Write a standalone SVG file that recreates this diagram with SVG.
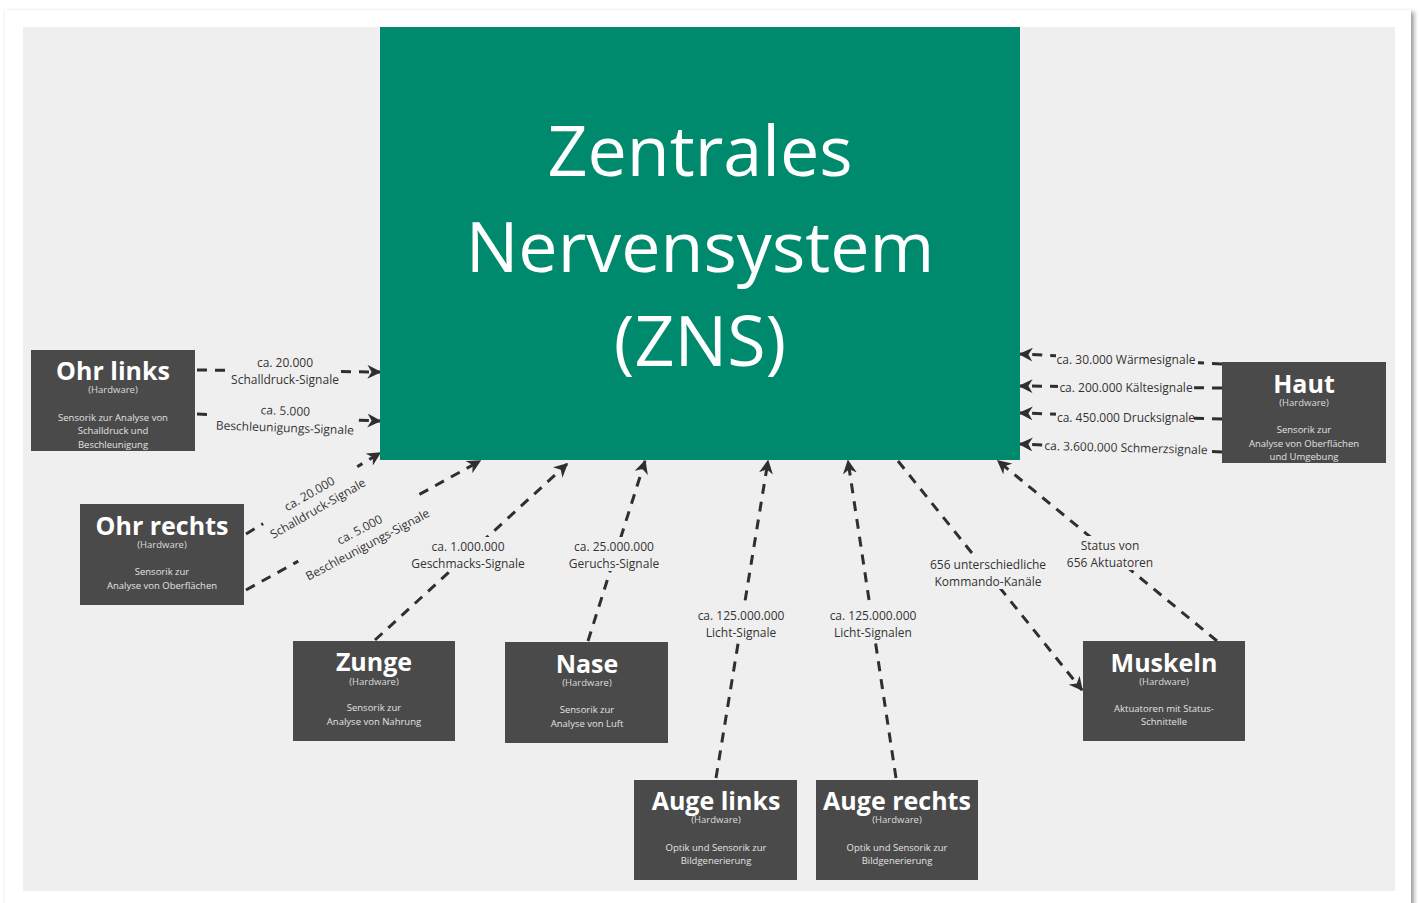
<svg xmlns="http://www.w3.org/2000/svg" width="1419" height="903" viewBox="0 0 1419 903">
<defs>
<marker id="arr" viewBox="0 0 10 10" refX="9" refY="5" markerWidth="14" markerHeight="14" markerUnits="userSpaceOnUse" orient="auto">
<path d="M0,0 L10,5 L0,10 L3,5 z" fill="#2f2f2f"/>
</marker>
<filter id="sh" x="-2%" y="-2%" width="104%" height="104%">
<feGaussianBlur stdDeviation="2"/>
</filter>
</defs>
<style>
.bg{fill:#f0efef}
.node{fill:#4a4a4a}
.t{font-family:"Open Sans","Liberation Sans",sans-serif;font-weight:700;font-size:25px;fill:#fff;text-anchor:middle}
.hw{font-family:"Open Sans","Liberation Sans",sans-serif;font-size:9.5px;fill:#dcdcdc;text-anchor:middle}
.d{font-family:"Open Sans","Liberation Sans",sans-serif;font-size:9.5px;fill:#e2e2e2;text-anchor:middle}
.ca{fill:none;stroke:#2f2f2f;stroke-width:3;stroke-dasharray:10 8;marker-end:url(#arr)}
.l{font-family:"Open Sans","Liberation Sans",sans-serif;font-size:12px;fill:#333;text-anchor:middle}
.zt{font-family:"Open Sans","Liberation Sans",sans-serif;font-size:70px;fill:#fff;text-anchor:middle}
</style>
<rect x="0" y="0" width="1419" height="903" fill="#ffffff"/>
<rect x="7" y="12" width="1407" height="900" fill="#9a9a9a" filter="url(#sh)"/>
<rect x="5" y="10" width="1406" height="900" fill="#ffffff"/>
<rect x="23" y="27" width="1372" height="864" class="bg"/>

<g id="connectors">
<path class="ca" d="M197,370 L380,372"/>
<path class="ca" d="M197,414 L380,421"/>
<path class="ca" d="M246,534 L380,453"/>
<path class="ca" d="M246,590 L480,461"/>
<path class="ca" d="M375,640 L567,464"/>
<path class="ca" d="M588,641 L645,461"/>
<path class="ca" d="M716,778 L768,461"/>
<path class="ca" d="M896,778 L848,461"/>
<path class="ca" d="M898,461 L1082,690"/>
<path class="ca" d="M1217,641 L998,461"/>
<path class="ca" d="M1222,364 L1020,354"/>
<path class="ca" d="M1222,388 L1020,386"/>
<path class="ca" d="M1222,419 L1020,413"/>
<path class="ca" d="M1222,452 L1020,444"/>

<g>
<rect class="bg" x="228" y="352" width="112" height="34"/>
<text class="l" x="285" y="367">ca. 20.000</text>
<text class="l" x="285" y="384">Schalldruck-Signale</text>
</g>
<g transform="rotate(2 285 422)">
<rect class="bg" x="214" y="401" width="142" height="34"/>
<text class="l" x="285" y="415">ca. 5.000</text>
<text class="l" x="285" y="432">Beschleunigungs-Signale</text>
</g>
<g transform="rotate(-30 313 500)">
<rect class="bg" x="258" y="482" width="110" height="34"/>
<text class="l" x="313" y="497">ca. 20.000</text>
<text class="l" x="313" y="514">Schalldruck-Signale</text>
</g>
<g transform="rotate(-28 363 536)">
<rect class="bg" x="294" y="518" width="138" height="34"/>
<text class="l" x="363" y="533">ca. 5.000</text>
<text class="l" x="363" y="550">Beschleunigungs-Signale</text>
</g>
<g>
<rect class="bg" x="410" y="537" width="116" height="34"/>
<text class="l" x="468" y="551">ca. 1.000.000</text>
<text class="l" x="468" y="568">Geschmacks-Signale</text>
</g>
<g>
<rect class="bg" x="566" y="537" width="96" height="34"/>
<text class="l" x="614" y="551">ca. 25.000.000</text>
<text class="l" x="614" y="568">Geruchs-Signale</text>
</g>
<g>
<rect class="bg" x="694" y="606" width="94" height="34"/>
<text class="l" x="741" y="620">ca. 125.000.000</text>
<text class="l" x="741" y="637">Licht-Signale</text>
</g>
<g>
<rect class="bg" x="826" y="606" width="94" height="34"/>
<text class="l" x="873" y="620">ca. 125.000.000</text>
<text class="l" x="873" y="637">Licht-Signalen</text>
</g>
<g>
<rect class="bg" x="928" y="555" width="120" height="34"/>
<text class="l" x="988" y="569">656 unterschiedliche</text>
<text class="l" x="988" y="586">Kommando-Kanäle</text>
</g>
<g>
<rect class="bg" x="1064" y="536" width="92" height="34"/>
<text class="l" x="1110" y="550">Status von</text>
<text class="l" x="1110" y="567">656 Aktuatoren</text>
</g>
<rect class="bg" x="1056" y="350" width="142" height="16"/>
<text class="l" x="1126" y="364">ca. 30.000 Wärmesignale</text>
<rect class="bg" x="1058" y="379" width="136" height="16"/>
<text class="l" x="1126" y="392">ca. 200.000 Kältesignale</text>
<rect class="bg" x="1056" y="409" width="138" height="16"/>
<text class="l" x="1126" y="422">ca. 450.000 Drucksignale</text>
<g transform="rotate(1.5 1126 448)">
<rect class="bg" x="1043" y="439" width="166" height="16"/>
<text class="l" x="1126" y="452">ca. 3.600.000 Schmerzsignale</text>
</g>
</g>

<g id="zns">
<rect x="380" y="27" width="640" height="433" fill="#008a6d"/>
<text class="zt" x="700" y="176">Zentrales</text>
<text class="zt" x="700" y="272">Nervensystem</text>
<text class="zt" x="700" y="366">(ZNS)</text>
</g>

<g id="ohr-links">
<rect class="node" x="31" y="350" width="164" height="101"/>
<text class="t" x="113" y="380">Ohr links</text>
<text class="hw" x="113" y="393">(Hardware)</text>
<text class="d" x="113" y="421">Sensorik zur Analyse von</text>
<text class="d" x="113" y="434">Schalldruck und</text>
<text class="d" x="113" y="448">Beschleunigung</text>
</g>
<g id="ohr-rechts">
<rect class="node" x="80" y="504" width="164" height="101"/>
<text class="t" x="162" y="535">Ohr rechts</text>
<text class="hw" x="162" y="548">(Hardware)</text>
<text class="d" x="162" y="575">Sensorik zur</text>
<text class="d" x="162" y="589">Analyse von Oberflächen</text>
</g>
<g id="haut">
<rect class="node" x="1222" y="362" width="164" height="101"/>
<text class="t" x="1304" y="393">Haut</text>
<text class="hw" x="1304" y="406">(Hardware)</text>
<text class="d" x="1304" y="433">Sensorik zur</text>
<text class="d" x="1304" y="447">Analyse von Oberflächen</text>
<text class="d" x="1304" y="460">und Umgebung</text>
</g>
<g id="zunge">
<rect class="node" x="293" y="641" width="162" height="100"/>
<text class="t" x="374" y="671">Zunge</text>
<text class="hw" x="374" y="685">(Hardware)</text>
<text class="d" x="374" y="711">Sensorik zur</text>
<text class="d" x="374" y="725">Analyse von Nahrung</text>
</g>
<g id="nase">
<rect class="node" x="505" y="642" width="163" height="101"/>
<text class="t" x="587" y="673">Nase</text>
<text class="hw" x="587" y="686">(Hardware)</text>
<text class="d" x="587" y="713">Sensorik zur</text>
<text class="d" x="587" y="727">Analyse von Luft</text>
</g>
<g id="muskeln">
<rect class="node" x="1083" y="641" width="162" height="100"/>
<text class="t" x="1164" y="672">Muskeln</text>
<text class="hw" x="1164" y="685">(Hardware)</text>
<text class="d" x="1164" y="712">Aktuatoren mit Status-</text>
<text class="d" x="1164" y="725">Schnittelle</text>
</g>
<g id="auge-links">
<rect class="node" x="634" y="780" width="163" height="100"/>
<text class="t" x="716" y="810">Auge links</text>
<text class="hw" x="716" y="823">(Hardware)</text>
<text class="d" x="716" y="851">Optik und Sensorik zur</text>
<text class="d" x="716" y="864">Bildgenerierung</text>
</g>
<g id="auge-rechts">
<rect class="node" x="816" y="780" width="162" height="100"/>
<text class="t" x="897" y="810">Auge rechts</text>
<text class="hw" x="897" y="823">(Hardware)</text>
<text class="d" x="897" y="851">Optik und Sensorik zur</text>
<text class="d" x="897" y="864">Bildgenerierung</text>
</g>
</svg>
